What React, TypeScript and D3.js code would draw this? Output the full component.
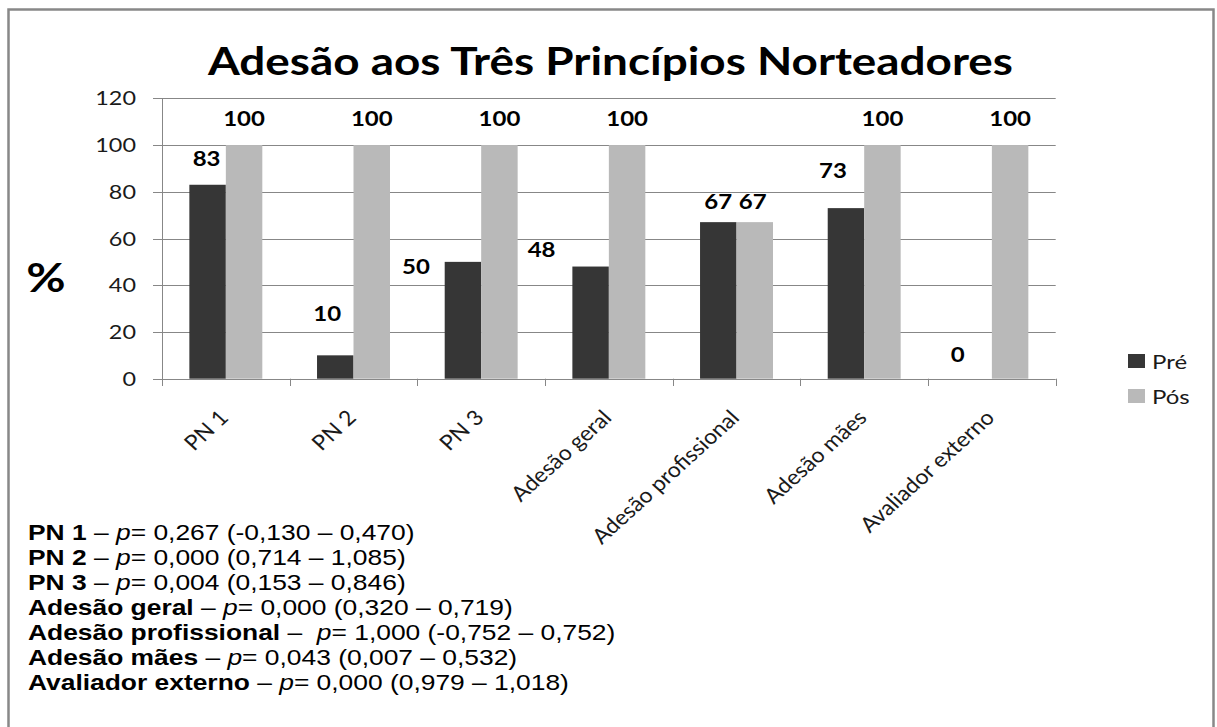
import React from "react";
import * as d3 from "d3";

const categories = ["PN 1", "PN 2", "PN 3", "Adesão geral", "Adesão profissional", "Adesão mães", "Avaliador externo"];
const seriesNames = ["Pré", "Pós"];
const preValues = [83, 10, 50, 48, 67, 73, 0];
const posValues = [100, 100, 100, 100, 67, 100, 100];
const yTicks = [0, 20, 40, 60, 80, 100, 120];

const statNames = ["PN 1", "PN 2", "PN 3", "Adesão geral", "Adesão profissional", "Adesão mães", "Avaliador externo"];
const statP = ["0,267", "0,000", "0,004", "0,000", "1,000", "0,043", "0,000"];
const statCI = ["(-0,130 – 0,470)", "(0,714 – 1,085)", "(0,153 – 0,846)", "(0,320 – 0,719)", "(-0,752 – 0,752)", "(0,007 – 0,532)", "(0,979 – 1,018)"];

// manual label placement (dx from bar centre, gap between baseline and bar top)
const preLabelNudge = [[-1, 19], [-8, 34], [-47, -12], [-49, 10], [0, 13], [-13, 30], [-16, 17]];
const posLabelNudge = [[0, 19.5], [0, 19.5], [0, 19.5], [0, 19.5], [-2, 13], [0, 19.5], [0, 19.5]];

const W = 1217;
const H = 727;
const SX = 1.2;
const CAL = "Lato, 'Open Sans', sans-serif";
const ARIAL = "'Liberation Sans', Arial, sans-serif";
const colors = ["#363636", "#b9b9b9"];

function SText({ x, y, rot = 0, sx = SX, anchor = "start", size, weight = 400, family = CAL, fill = "#000", children }: any) {
  return (
    <text
      transform={`translate(${x},${y}) scale(${sx},1) rotate(${rot})`}
      textAnchor={anchor}
      fontSize={size}
      fontWeight={weight}
      fontFamily={family}
      fill={fill}
      style={{ whiteSpace: "pre" }}
    >
      {children}
    </text>
  );
}

export default function App() {
  const x = d3.scaleBand<string>().domain(categories).range([162, 1055.7]).paddingInner(0).paddingOuter(0);
  const xs = d3.scaleBand<string>().domain(seriesNames).range([0, x.bandwidth()]).paddingInner(0).paddingOuter(0.75);
  const y = d3.scaleLinear().domain([0, 120]).range([378.7, 98.3]);
  const grid = "#878787";
  const boundaries = categories.map((c) => x(c)!).concat([x.range()[1]]);

  return (
    <svg width={W} height={H} style={{ position: "absolute", left: 0, top: 0, background: "#fff" }}>
      <rect x={0} y={0} width={W} height={H} fill="#fff" />
      <rect x={8.5} y={9.5} width={1205} height={800} fill="none" stroke="#888" strokeWidth={2.5} />

      <text
        x={610.5}
        y={75}
        textAnchor="middle"
        fontFamily={CAL}
        fontWeight={700}
        fontSize={39}
        textLength={805}
        lengthAdjust="spacingAndGlyphs"
        fill="#000"
      >
        Adesão aos Três Princípios Norteadores
      </text>

      {yTicks.map((t) => (
        <g key={t}>
          <line x1={153} x2={1055.7} y1={Math.round(y(t)) + 0.5} y2={Math.round(y(t)) + 0.5} stroke={grid} strokeWidth={1} />
          <SText x={136} y={y(t) + 7} anchor="end" size={19.5} fill="#1a1a1a">
            {t}
          </SText>
        </g>
      ))}
      <line x1={162.5} x2={162.5} y1={y(120)} y2={386} stroke={grid} strokeWidth={1} />
      {boundaries.map((b, i) => (
        <line key={i} x1={Math.round(b) + 0.5} x2={Math.round(b) + 0.5} y1={y(0)} y2={386} stroke={grid} strokeWidth={1} />
      ))}

      {categories.map((c, i) => (
        <g key={c}>
          <rect x={x(c)! + xs("Pré")!} y={y(preValues[i])} width={xs.bandwidth()} height={y(0) - y(preValues[i])} fill={colors[0]} />
          <rect x={x(c)! + xs("Pós")!} y={y(posValues[i])} width={xs.bandwidth()} height={y(0) - y(posValues[i])} fill={colors[1]} />
        </g>
      ))}

      {categories.map((c, i) => {
        const cPre = x(c)! + xs("Pré")! + xs.bandwidth() / 2;
        const cPos = x(c)! + xs("Pós")! + xs.bandwidth() / 2;
        return (
          <g key={"l" + c}>
            <SText x={cPre + preLabelNudge[i][0]} y={y(preValues[i]) - preLabelNudge[i][1]} anchor="middle" size={20} weight={700} fill="#000">
              {preValues[i]}
            </SText>
            <SText x={cPos + posLabelNudge[i][0]} y={y(posValues[i]) - posLabelNudge[i][1]} anchor="middle" size={20} weight={700} fill="#000">
              {posValues[i]}
            </SText>
          </g>
        );
      })}

      {categories.map((c) => (
        <SText key={"x" + c} x={x(c)! + x.bandwidth() / 2 + 4} y={419} rot={-45} sx={1.1} anchor="end" size={21} fill="#1a1a1a">
          {c}
        </SText>
      ))}

      <SText x={46} y={292} anchor="middle" size={40} weight={700} fill="#000">
        %
      </SText>

      {seriesNames.map((s, i) => (
        <g key={s}>
          <rect x={1128} y={354 + i * 35} width={17} height={14} fill={colors[i]} />
          <SText x={1152} y={369 + i * 35} size={20} fill="#1a1a1a">
            {s}
          </SText>
        </g>
      ))}

      {statNames.map((n, i) => (
        <text
          key={n}
          transform={`translate(28,${540 + i * 25}) scale(${SX},1)`}
          fontFamily={ARIAL}
          fontSize={22}
          fill="#000"
          style={{ whiteSpace: "pre" }}
        >
          <tspan fontWeight={700}>{n}</tspan>
          <tspan>{i === 4 ? " –  " : " – "}</tspan>
          <tspan fontStyle="italic">p</tspan>
          <tspan>{`= ${statP[i]} ${statCI[i]}`}</tspan>
        </text>
      ))}
    </svg>
  );
}
